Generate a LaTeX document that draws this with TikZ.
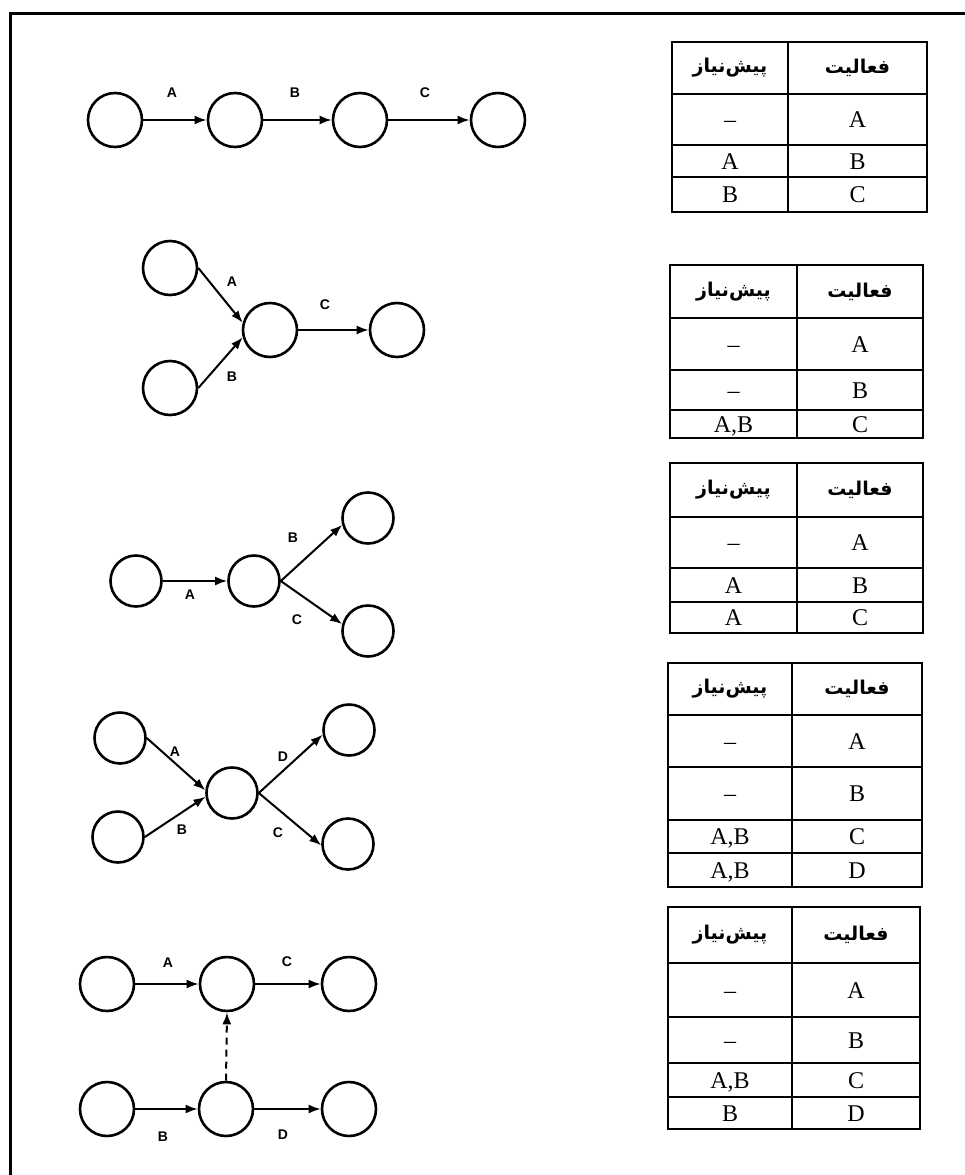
\documentclass[tikz,border=0pt]{standalone}
\usepackage{fontspec}
\setmainfont{Liberation Serif}
\newfontfamily\arabicfont[Script=Arabic]{DejaVu Sans}
\newfontfamily\lblfont{Liberation Sans}
\TeXXeTstate=1
\usetikzlibrary{arrows.meta}
\tikzset{
  ev/.style={circle, draw, line width=2.6pt, minimum size=54pt, inner sep=0pt},
  evs/.style={ev, minimum size=51pt},
  act/.style={line width=2pt, -{Latex[length=12pt,width=9pt]}},
  dummy/.style={act, dash pattern=on 7pt off 5pt},
  lbl/.style={font=\lblfont\bfseries\fontsize{14}{14}\selectfont, inner sep=0pt},
  cell/.style={draw, line width=2.2pt, inner sep=0pt, outer sep=0pt, text height=16pt, text depth=0pt, font=\fontsize{24}{24}\selectfont},
  hcell/.style={draw, line width=2.2pt, inner sep=0pt, outer sep=0pt, font=\arabicfont\bfseries\fontsize{19}{19}\selectfont},
  frame/.style={line width=3pt},
}
% name, left, mid, right, top, bottom, left text, right text
\newcommand{\trow}[8]{%
  \node[cell, minimum width={#3-#2}, minimum height={#6-#5}] (#1l) at ({(#2+#3)/2},{-(#5+#6)/2}) {#7};
  \node[cell, minimum width={#4-#3}, minimum height={#6-#5}] (#1r) at ({(#3+#4)/2},{-(#5+#6)/2}) {#8};
}
\newcommand{\hrow}[6]{%
  \node[hcell, minimum width={#3-#2}, minimum height={#6-#5}] (#1l) at ({(#2+#3)/2},{-(#5+#6)/2}) {\beginR پیش‌نیاز\endR};
  \node[hcell, minimum width={#4-#3}, minimum height={#6-#5}] (#1r) at ({(#3+#4)/2},{-(#5+#6)/2}) {\beginR فعالیت\endR};
}
\begin{document}
\begin{tikzpicture}[x=1pt,y=1pt]
\useasboundingbox (0,0) rectangle (965,-1175);
% frame
\coordinate (fa) at (10,-1175);
\coordinate (fb) at (10,-13);
\coordinate (fc) at (965,-13);
\draw[frame] (fa) -- (fb) -- (fc);

% ---- Table 1
\hrow{ta}{672}{788}{927}{42}{94}
\trow{tb}{672}{788}{927}{94}{145}{–}{A}
\trow{tc}{672}{788}{927}{145}{177}{A}{B}
\trow{td}{672}{788}{927}{177}{212}{B}{C}
% ---- Table 2
\hrow{ua}{670}{797}{923}{265}{318}
\trow{ub}{670}{797}{923}{318}{370}{–}{A}
\trow{uc}{670}{797}{923}{370}{410}{–}{B}
\trow{ud}{670}{797}{923}{410}{438}{A,B}{C}
% ---- Table 3
\hrow{va}{670}{797}{923}{463}{517}
\trow{vb}{670}{797}{923}{517}{568}{–}{A}
\trow{vc}{670}{797}{923}{568}{602}{A}{B}
\trow{vd}{670}{797}{923}{602}{633}{A}{C}
% ---- Table 4
\hrow{wa}{668}{792}{922}{663}{715}
\trow{wb}{668}{792}{922}{715}{767}{–}{A}
\trow{wc}{668}{792}{922}{767}{820}{–}{B}
\trow{wd}{668}{792}{922}{820}{853}{A,B}{C}
\trow{we}{668}{792}{922}{853}{887}{A,B}{D}
% ---- Table 5
\hrow{xa}{668}{792}{920}{907}{963}
\trow{xb}{668}{792}{920}{963}{1017}{–}{A}
\trow{xc}{668}{792}{920}{1017}{1063}{–}{B}
\trow{xd}{668}{792}{920}{1063}{1097}{A,B}{C}
\trow{xe}{668}{792}{920}{1097}{1129}{B}{D}

% ---- Diagram 1
\node[ev] (a1) at (115,-120) {};
\node[ev] (b1) at (235,-120) {};
\node[ev] (c1) at (360,-120) {};
\node[ev] (d1) at (498,-120) {};
\draw[act] (a1) -- (b1);
\draw[act] (b1) -- (c1);
\draw[act] (c1) -- (d1);
\node[lbl] (la1) at (172,-93) {A};
\node[lbl] (lb1) at (295,-93) {B};
\node[lbl] (lc1) at (425,-93) {C};

% ---- Diagram 2
\node[ev] (p2) at (170,-268) {};
\node[ev] (q2) at (170,-388) {};
\node[ev] (m2) at (270,-330) {};
\node[ev] (r2) at (397,-330) {};
\draw[act] (p2.east) -- (m2.165);
\draw[act] (q2.east) -- (m2.195);
\draw[act] (m2) -- (r2);
\node[lbl] (la2) at (232,-282) {A};
\node[lbl] (lb2) at (232,-377) {B};
\node[lbl] (lc2) at (325,-305) {C};

% ---- Diagram 3
\node[evs] (l3) at (136,-581) {};
\node[evs] (m3) at (254,-581) {};
\node[evs] (t3) at (368,-518) {};
\node[evs] (b3) at (368,-631) {};
\draw[act] (l3) -- (m3);
\draw[act] (m3.east) -- (t3.195);
\draw[act] (m3.east) -- (b3.165);
\node[lbl] (la3) at (190,-595) {A};
\node[lbl] (lb3) at (293,-538) {B};
\node[lbl] (lc3) at (297,-620) {C};

% ---- Diagram 4
\node[evs] (tl4) at (120,-738) {};
\node[evs] (bl4) at (118,-837) {};
\node[evs] (m4) at (232,-793) {};
\node[evs] (tr4) at (349,-730) {};
\node[evs] (br4) at (348,-844) {};
\draw[act] (tl4.east) -- (m4.174);
\draw[act] (bl4.east) -- (m4.188);
\draw[act] (m4.east) -- (tr4.190);
\draw[act] (m4.east) -- (br4.183);
\node[lbl] (la4) at (175,-752) {A};
\node[lbl] (lb4) at (182,-830) {B};
\node[lbl] (ld4) at (283,-757) {D};
\node[lbl] (lc4) at (278,-833) {C};

% ---- Diagram 5
\node[ev] (a5) at (107,-984) {};
\node[ev] (b5) at (227,-984) {};
\node[ev] (c5) at (349,-984) {};
\node[ev] (d5) at (107,-1109) {};
\node[ev] (e5) at (226,-1109) {};
\node[ev] (f5) at (349,-1109) {};
\draw[act] (a5) -- (b5);
\draw[act] (b5) -- (c5);
\draw[act] (d5) -- (e5);
\draw[act] (e5) -- (f5);
\draw[dummy] (e5.north) -- (b5.south);
\node[lbl] (la5) at (168,-963) {A};
\node[lbl] (lc5) at (287,-962) {C};
\node[lbl] (lb5) at (163,-1137) {B};
\node[lbl] (ld5) at (283,-1135) {D};
\end{tikzpicture}
\end{document}
